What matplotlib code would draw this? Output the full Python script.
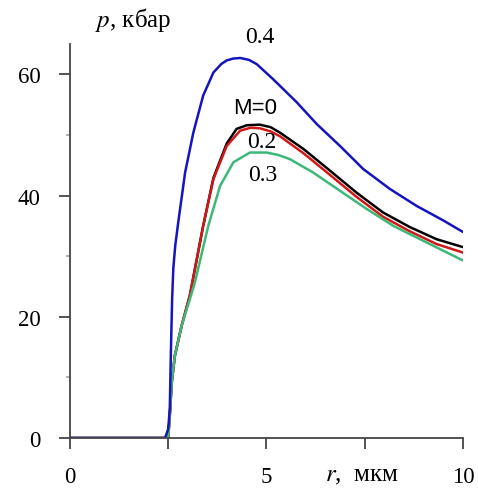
import numpy as np
import matplotlib
matplotlib.use('Agg')
import matplotlib.pyplot as plt

plt.rcParams['font.family'] = ['Liberation Serif', 'DejaVu Serif']
plt.rcParams['mathtext.fontset'] = 'stix'

# p(r) curves for different M
r_04 = [0, 2.42, 2.50, 2.54, 2.57, 2.60, 2.63, 2.68, 2.76, 2.93, 3.14, 3.39, 3.65, 3.85, 3.99,
        4.15, 4.33, 4.55, 4.75, 5.17, 5.77, 6.28, 6.87, 7.46, 8.14, 8.82, 9.5, 10]
p_04 = [0, 0, 1.5, 4.8, 14.7, 22.9, 28.0, 31.8, 35.8, 43.8, 50.4, 56.5, 60.3, 61.7, 62.3,
        62.6, 62.7, 62.4, 61.7, 59.2, 55.4, 51.8, 48.2, 44.4, 41.1, 38.3, 35.9, 34.0]

r_00 = [0, 2.45, 2.50, 2.54, 2.59, 2.67, 2.84, 3.05, 3.18, 3.39, 3.65, 3.99, 4.24,
        4.5, 4.83, 5.1, 5.34, 5.94, 6.62, 7.29, 7.97, 8.65, 9.33, 10]
p_00 = [0, 0, 0.1, 3.7, 9.2, 13.6, 18.5, 23.5, 27.9, 35.0, 42.9, 48.6, 51.0,
        51.6, 51.7, 51.3, 50.4, 47.7, 44.1, 40.5, 37.2, 34.8, 32.8, 31.5]

r_02 = [0, 2.45, 2.50, 2.54, 2.59, 2.67, 2.84, 3.05, 3.18, 3.39, 3.65, 3.99, 4.33,
        4.6, 4.83, 5.1, 5.34, 5.94, 6.62, 7.29, 7.97, 8.65, 9.33, 10]
p_02 = [0, 0, 0.1, 3.7, 9.2, 13.6, 18.5, 23.5, 27.9, 35.0, 42.7, 48.2, 50.7,
        51.2, 51.1, 50.6, 49.8, 47.0, 43.4, 39.8, 36.5, 34.1, 32.0, 30.6]

r_03 = [0, 2.45, 2.50, 2.54, 2.59, 2.67, 2.84, 3.05, 3.18, 3.26, 3.52, 3.82, 4.16,
        4.58, 5.0, 5.3, 5.6, 6.19, 6.87, 7.55, 8.23, 8.91, 9.5, 10]
p_03 = [0, 0, 0.1, 3.7, 9.2, 13.6, 18.5, 22.9, 25.7, 27.9, 35.0, 41.6, 45.5,
        47.1, 47.1, 46.7, 46.0, 43.8, 40.8, 37.8, 35.0, 32.8, 30.9, 29.3]

fig = plt.figure(figsize=(4.78, 4.89), dpi=100)
ax = fig.add_axes([0.1464, 0.1022, 0.822, 0.8057])

kw = dict(lw=1.8, solid_joinstyle='round', solid_capstyle='round')
ax.plot(r_00, p_00, color='black', **kw)
ax.plot(r_02, p_02, color='#d01818', **kw)
ax.plot(r_03, p_03, color='#3cb878', **kw)
ax.plot(r_04, p_04, color='#1414c0', **kw)

# curve labels
ax.text(4.83, 66.3, '0.4', fontsize=17, ha='center', va='center')
ax.text(4.72, 54.6, 'M=0', fontsize=16, ha='center', va='center', family='Liberation Sans')
ax.text(4.88, 49.0, '0.2', fontsize=17, ha='center', va='center')
ax.text(4.90, 43.4, '0.3', fontsize=17, ha='center', va='center')

ax.set_xlim(0, 10)
ax.set_ylim(0, 65)
ax.spines['top'].set_color('none')
ax.spines['right'].set_color('none')
for s in ['left', 'bottom']:
    ax.spines[s].set_color('#444444')
    ax.spines[s].set_linewidth(1.3)

ax.set_xticks([0, 2.5, 5, 7.5, 10])
ax.set_xticklabels(['0', '', '5', '', '10'])
ax.set_yticks([0, 20, 40, 60])
ax.set_yticks([10, 30, 50], minor=True)
ax.tick_params(axis='x', direction='out', length=8, width=1.3, color='#444444', pad=12, labelsize=16.5)
ax.tick_params(axis='y', which='major', direction='out', length=8, width=1.3, color='#444444', pad=13, labelsize=16.5)
ax.tick_params(axis='y', which='minor', direction='out', length=3, width=1.3, color='#aaaaaa')

ax.text(6.49, -7.05, '$r$,  мкм', fontsize=18, ha='left', va='baseline', clip_on=False)
ax.text(0.64, 68.0, '$p$, кбар', fontsize=18, ha='left', va='baseline', clip_on=False)

fig.savefig('out.png', dpi=100)
